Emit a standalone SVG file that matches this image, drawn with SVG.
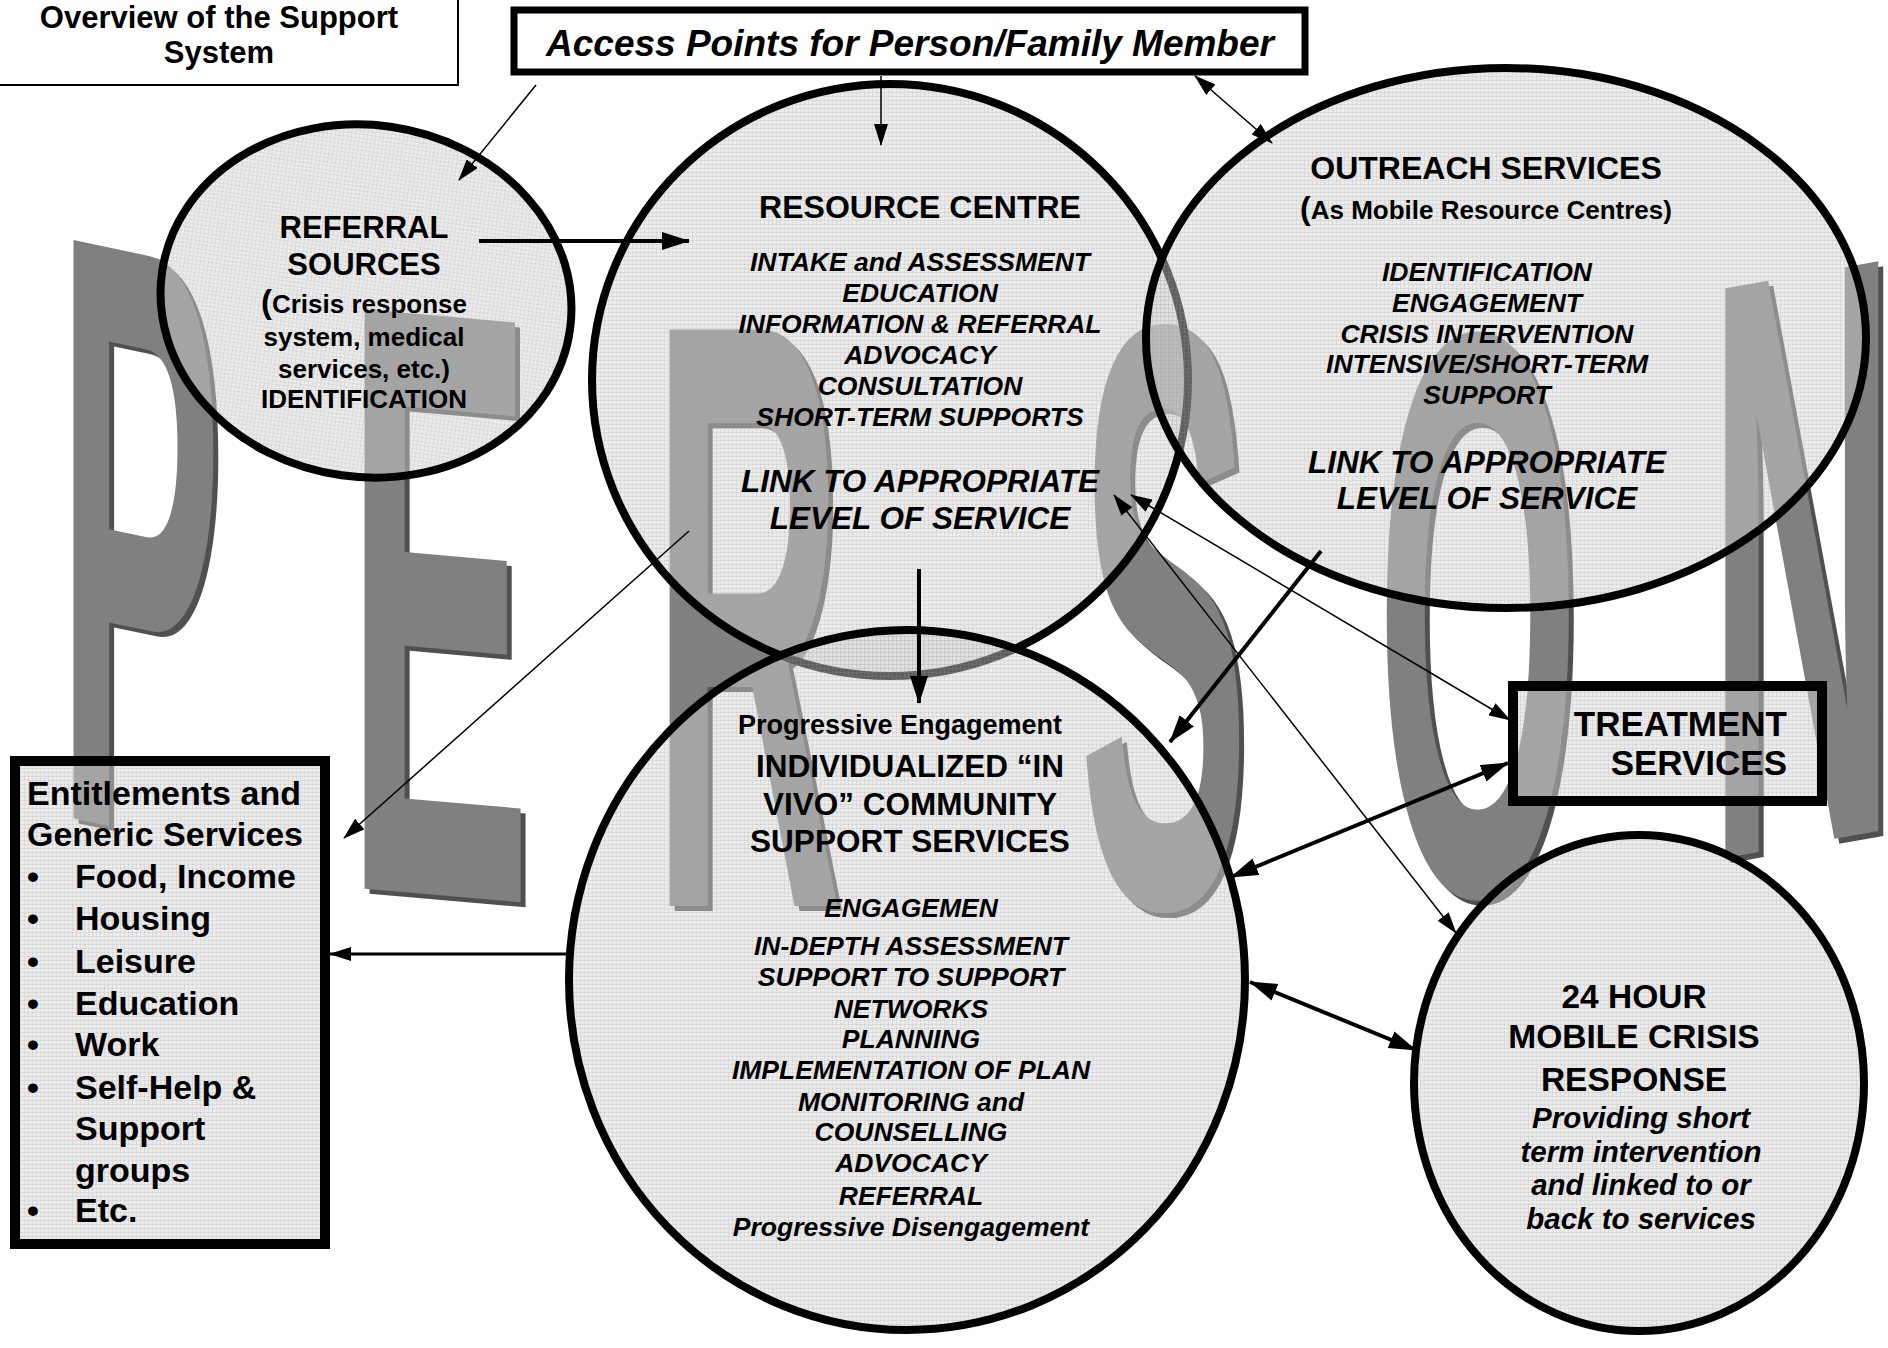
<svg xmlns="http://www.w3.org/2000/svg" width="1888" height="1348" viewBox="0 0 1888 1348">
<style>
.t{font-family:"Liberation Sans",Arial,Helvetica,sans-serif;font-weight:bold;fill:#000}
.i{font-style:italic}
.c{text-anchor:middle}
.r{text-anchor:end}
.big{font-family:"Liberation Sans",Arial,sans-serif;font-weight:bold;font-size:100px}
.let{fill:#808080}
.sh{fill:#505050}
.ell{fill:url(#grid);stroke:#000;stroke-width:8}
.box{fill:url(#grid);stroke:#000;stroke-width:10}
.thin{stroke:#000;stroke-width:1.5;fill:none}
.mid{stroke:#000;stroke-width:3;fill:none}
.thick{stroke:#000;stroke-width:4;fill:none}
</style>
<defs>
<pattern id="grid" width="4" height="4" patternUnits="userSpaceOnUse">
<rect width="4" height="4" fill="#d3d3d3" fill-opacity="0.45"/>
<path d="M0,0.5H4M0.5,0V4" stroke="#9a9a9a" stroke-opacity="0.3" stroke-width="0.6"/>
</pattern>
<marker id="a" markerUnits="userSpaceOnUse" markerWidth="22" markerHeight="14" refX="21" refY="7" orient="auto-start-reverse"><path d="M0,0L22,7L0,14z" fill="#000"/></marker>
<marker id="A" markerUnits="userSpaceOnUse" markerWidth="28" markerHeight="18" refX="27" refY="9" orient="auto-start-reverse"><path d="M0,0L28,9L0,18z" fill="#000"/></marker>
</defs>
<rect width="1888" height="1348" fill="#fff"/>

<g id="person-letters">
<g transform="translate(5,5)">
<text class="big sh" transform="translate(57,815) skewY(12) scale(2.47,8.41)">P</text>
<text class="big sh" transform="translate(346,887) skewY(5) scale(2.78,8.42)">E</text>
<text class="big sh" transform="translate(652,906) scale(2.64,8.38)">R</text>
<text class="big sh" transform="translate(1079,905) scale(2.55,8.32)">S</text>
<text class="big sh" transform="translate(1376,893) scale(2.62,8.04)">O</text>
<text class="big sh" letter-spacing="-20" transform="translate(1708,861) skewY(-10) scale(2.6,8.28)">N</text>
</g>
<text class="big let" transform="translate(57,815) skewY(12) scale(2.47,8.41)">P</text>
<text class="big let" transform="translate(346,887) skewY(5) scale(2.78,8.42)">E</text>
<text class="big let" transform="translate(652,906) scale(2.64,8.38)">R</text>
<text class="big let" transform="translate(1079,905) scale(2.55,8.32)">S</text>
<text class="big let" transform="translate(1376,893) scale(2.62,8.04)">O</text>
<text class="big let" letter-spacing="-20" transform="translate(1708,861) skewY(-10) scale(2.6,8.28)">N</text>
</g>

<g id="title">
<rect x="-5" y="-5" width="463" height="90" fill="#fff" stroke="#000" stroke-width="2"/>
<text class="t c" x="219" y="28" font-size="31">Overview of the Support</text>
<text class="t c" x="219" y="63" font-size="31">System</text>
</g>

<g id="access-points">
<rect x="514" y="10" width="791" height="62" fill="#fff" stroke="#000" stroke-width="7"/>
<text class="t i c" x="910" y="56" font-size="37">Access Points for Person/Family Member</text>
</g>

<g id="referral-sources">
<ellipse class="ell" cx="366" cy="301" rx="206" ry="176" transform="rotate(8 366 301)"/>
<text class="t c" x="364" y="238" font-size="31">REFERRAL</text>
<text class="t c" x="364" y="275" font-size="31">SOURCES</text>
<text class="t c" x="364" y="313" font-size="26"><tspan font-size="33">(</tspan>Crisis response</text>
<text class="t c" x="364" y="346" font-size="26">system, medical</text>
<text class="t c" x="364" y="378" font-size="26">services, etc.)</text>
<text class="t c" x="364" y="408" font-size="26">IDENTIFICATION</text>
</g>

<g id="resource-centre">
<ellipse class="ell" cx="890" cy="380" rx="298" ry="296"/>
<text class="t c" x="920" y="218" font-size="32">RESOURCE CENTRE</text>
<text class="t i c" x="920" y="271" font-size="26.5">INTAKE and ASSESSMENT</text>
<text class="t i c" x="920" y="302" font-size="26.5">EDUCATION</text>
<text class="t i c" x="920" y="333" font-size="26.5">INFORMATION &amp; REFERRAL</text>
<text class="t i c" x="920" y="364" font-size="26.5">ADVOCACY</text>
<text class="t i c" x="920" y="395" font-size="26.5">CONSULTATION</text>
<text class="t i c" x="920" y="426" font-size="26.5">SHORT-TERM SUPPORTS</text>
<text class="t i c" x="920" y="492" font-size="31.5">LINK TO APPROPRIATE</text>
<text class="t i c" x="920" y="529" font-size="31.5">LEVEL OF SERVICE</text>
</g>

<g id="outreach-services">
<ellipse class="ell" cx="1506" cy="338" rx="360" ry="270"/>
<text class="t c" x="1486" y="179" font-size="32">OUTREACH SERVICES</text>
<text class="t c" x="1486" y="219" font-size="26"><tspan font-size="32">(</tspan>As Mobile Resource Centres)</text>
<text class="t i c" x="1487" y="281" font-size="26.5">IDENTIFICATION</text>
<text class="t i c" x="1487" y="312" font-size="26.5">ENGAGEMENT</text>
<text class="t i c" x="1487" y="343" font-size="26.5">CRISIS INTERVENTION</text>
<text class="t i c" x="1487" y="373" font-size="26.5">INTENSIVE/SHORT-TERM</text>
<text class="t i c" x="1487" y="404" font-size="26.5">SUPPORT</text>
<text class="t i c" x="1487" y="473" font-size="31.5">LINK TO APPROPRIATE</text>
<text class="t i c" x="1487" y="509" font-size="31.5">LEVEL OF SERVICE</text>
</g>

<g id="community-support">
<ellipse class="ell" cx="907" cy="980" rx="338" ry="350"/>
<text class="t c" x="900" y="734" font-size="27">Progressive Engagement</text>
<text class="t c" x="910" y="777" font-size="31.5">INDIVIDUALIZED “IN</text>
<text class="t c" x="910" y="815" font-size="31.5">VIVO” COMMUNITY</text>
<text class="t c" x="910" y="852" font-size="31.5">SUPPORT SERVICES</text>
<text class="t i c" x="911" y="917" font-size="26.5">ENGAGEMEN</text>
<text class="t i c" x="911" y="955" font-size="26.5">IN-DEPTH ASSESSMENT</text>
<text class="t i c" x="911" y="986" font-size="26.5">SUPPORT TO SUPPORT</text>
<text class="t i c" x="911" y="1018" font-size="26.5">NETWORKS</text>
<text class="t i c" x="911" y="1048" font-size="26.5">PLANNING</text>
<text class="t i c" x="911" y="1079" font-size="26.5">IMPLEMENTATION OF PLAN</text>
<text class="t i c" x="911" y="1111" font-size="26.5">MONITORING and</text>
<text class="t i c" x="911" y="1141" font-size="26.5">COUNSELLING</text>
<text class="t i c" x="911" y="1172" font-size="26.5">ADVOCACY</text>
<text class="t i c" x="911" y="1205" font-size="26.5">REFERRAL</text>
<text class="t i c" x="911" y="1236" font-size="26.5">Progressive Disengagement</text>
</g>

<g id="crisis-response">
<ellipse class="ell" cx="1639" cy="1083" rx="225" ry="248"/>
<text class="t c" x="1634" y="1008" font-size="33.5">24 HOUR</text>
<text class="t c" x="1634" y="1048" font-size="33.5">MOBILE CRISIS</text>
<text class="t c" x="1634" y="1091" font-size="33.5">RESPONSE</text>
<text class="t i c" x="1641" y="1128" font-size="29.5">Providing short</text>
<text class="t i c" x="1641" y="1162" font-size="29.5">term intervention</text>
<text class="t i c" x="1641" y="1195" font-size="29.5">and linked to or</text>
<text class="t i c" x="1641" y="1229" font-size="29.5">back to services</text>
</g>

<g id="treatment-services">
<rect class="box" x="1513" y="686" width="309" height="115"/>
<text class="t r" x="1787" y="736" font-size="35">TREATMENT</text>
<text class="t r" x="1787" y="775" font-size="35">SERVICES</text>
</g>

<g id="entitlements">
<rect class="box" x="15" y="761" width="310" height="483"/>
<text class="t" x="27" y="805" font-size="34">Entitlements and</text>
<text class="t" x="27" y="846" font-size="34">Generic Services</text>
<g font-size="34">
<text class="t" x="27" y="888">•</text><text class="t" x="75" y="888">Food, Income</text>
<text class="t" x="27" y="930">•</text><text class="t" x="75" y="930">Housing</text>
<text class="t" x="27" y="973">•</text><text class="t" x="75" y="973">Leisure</text>
<text class="t" x="27" y="1015">•</text><text class="t" x="75" y="1015">Education</text>
<text class="t" x="27" y="1056">•</text><text class="t" x="75" y="1056">Work</text>
<text class="t" x="27" y="1099">•</text><text class="t" x="75" y="1099">Self-Help &amp;</text>
<text class="t" x="75" y="1140">Support</text>
<text class="t" x="75" y="1182">groups</text>
<text class="t" x="27" y="1222">•</text><text class="t" x="75" y="1222">Etc.</text>
</g>
</g>

<g id="connectors">
<path class="thin" d="M536,85L459,180" marker-end="url(#a)"/>
<path class="thick" d="M479,241L689,241" marker-end="url(#A)"/>
<path class="thin" d="M881,76L881,145" marker-end="url(#a)"/>
<path class="thin" d="M1195,76L1272,143" marker-start="url(#a)" marker-end="url(#a)"/>
<path class="thick" d="M919,569L919,703" marker-end="url(#A)"/>
<path class="thin" d="M689,531L344,838" marker-end="url(#a)"/>
<path class="thick" d="M1321,551L1170,742" marker-end="url(#A)"/>
<path class="thin" d="M1131,495L1510,720" marker-start="url(#a)" marker-end="url(#a)"/>
<path class="thin" d="M1114,495L1456,933" marker-start="url(#a)" marker-end="url(#a)"/>
<path class="thick" d="M1231,877L1508,763" marker-start="url(#A)" marker-end="url(#A)"/>
<path class="thick" d="M1250,982L1416,1050" marker-start="url(#A)" marker-end="url(#A)"/>
<path class="mid" d="M570,954L330,954" marker-end="url(#a)"/>
</g>
</svg>
